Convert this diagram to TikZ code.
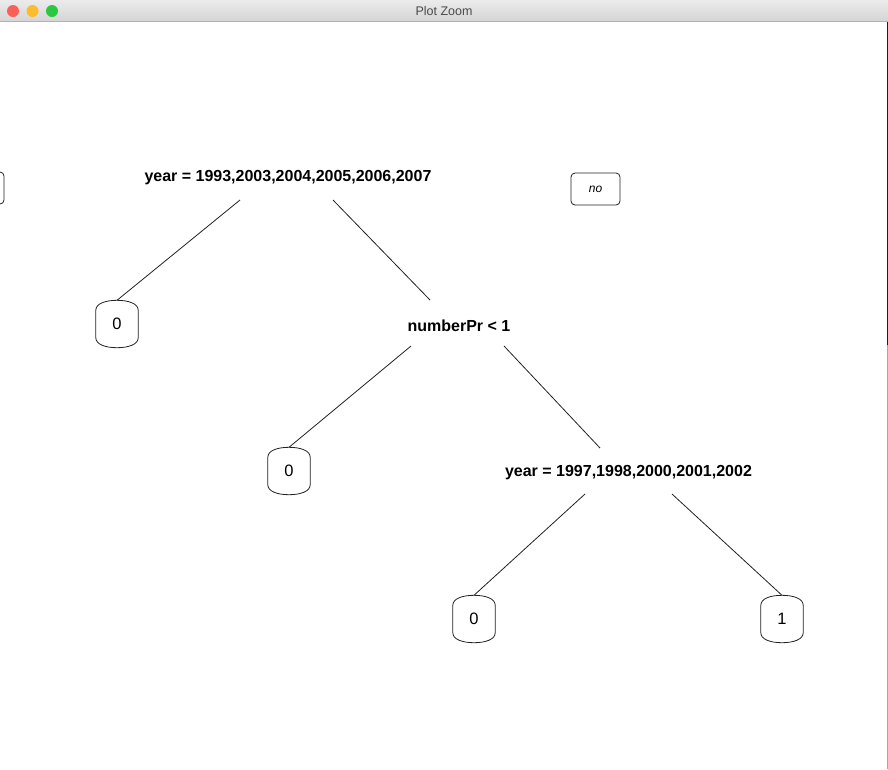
\documentclass[tikz,border=0pt]{standalone}
\usepackage{fontspec}
\setmainfont{Liberation Sans}
\usetikzlibrary{calc}
\definecolor{tbtop}{HTML}{EBEBEB}
\definecolor{tbbot}{HTML}{D5D5D5}
\definecolor{tbline}{HTML}{B2B2B2}
\definecolor{tred}{HTML}{FC5F57}
\definecolor{tyellow}{HTML}{FDBC2E}
\definecolor{tgreen}{HTML}{28C840}
\definecolor{ttext}{HTML}{4A4A4A}
\definecolor{edgecol}{HTML}{222222}
\definecolor{sidedark}{HTML}{1A1E2A}
\tikzset{
  split/.style={font=\fontsize{16}{19}\selectfont\bfseries, inner sep=0pt},
  leaf/.style={font=\fontsize{16.5}{19}\selectfont, minimum width=42pt, minimum height=47pt, inner sep=0pt},
  edge/.style={draw=edgecol, line width=0.8pt},
  box/.style={draw=edgecol, line width=0.8pt, rounded corners=4pt},
}
\newcommand\barrelleaf[1]{%
  \draw[box,rounded corners=0pt] ($(#1.north west)+(0,10)$) .. controls +(0,-7) and +(-11,0) .. (#1.north)
    .. controls +(11,0) and +(0,-7) .. ($(#1.north east)+(0,10)$)
    -- ($(#1.south east)+(0,-10)$) .. controls +(0,7) and +(11,0) .. (#1.south)
    .. controls +(-11,0) and +(0,7) .. ($(#1.south west)+(0,-10)$) -- cycle;}
\begin{document}
\begin{tikzpicture}[x=1pt,y=-1pt]
\useasboundingbox (0,0) rectangle (888,769);
\clip (0,0) rectangle (888,769);
\fill[white] (0,0) rectangle (888,769);
% title bar
\shade[top color=tbtop, bottom color=tbbot] (0,0) rectangle (888,21);
\draw[tbline, line width=1pt] (0,21.5) -- (888,21.5);
\fill[tred] (13,11) circle (6);
\fill[tyellow] (32.5,11) circle (6);
\fill[tgreen] (52,11) circle (6);
\node[font=\fontsize{12.5}{15}\selectfont, text=ttext] (title) at (444,11.5) {Plot Zoom};
% right window edge
\fill[sidedark] (886.5,22) rectangle (888,345);
\fill[gray!70] (886.5,345) rectangle (888,769);
% partial box at left edge and legend box
\draw[box] (-40,172) rectangle (4,204);
\node[box, minimum width=49pt, minimum height=32pt, inner sep=0pt, font=\fontsize{12}{14}\selectfont\itshape] (no) at (595.5,189) {no};
% split nodes
\node[split] (r) at (288,178) {year = 1993,2003,2004,2005,2006,2007};
\node[split] (n2) at (459,326) {numberPr < 1};
\node[split] (n3) at (628.5,473) {year = 1997,1998,2000,2001,2002};
% leaves
\node[leaf] (l1) at (117,324) {0};
\node[leaf] (l2) at (289,471) {0};
\node[leaf] (l3) at (474,619) {0};
\node[leaf] (l4) at (782,619) {1};
\foreach \n in {l1,l2,l3,l4} {\barrelleaf{\n}}
% connector ends
\coordinate (rL) at ($(r.center)+(-48,22)$);
\coordinate (rR) at ($(r.center)+(45,22)$);
\coordinate (n2T) at ($(n2.center)+(-29,-26)$);
\coordinate (n2L) at ($(n2.center)+(-48,20)$);
\coordinate (n2R) at ($(n2.center)+(45,20)$);
\coordinate (n3T) at ($(n3.center)+(-28.5,-25)$);
\coordinate (n3L) at ($(n3.center)+(-43.5,21)$);
\coordinate (n3R) at ($(n3.center)+(43.5,21)$);
\draw[edge] (rL) -- (l1.north);
\draw[edge] (rR) -- (n2T);
\draw[edge] (n2L) -- (l2.north);
\draw[edge] (n2R) -- (n3T);
\draw[edge] (n3L) -- (l3.north);
\draw[edge] (n3R) -- (l4.north);
\end{tikzpicture}
\end{document}
